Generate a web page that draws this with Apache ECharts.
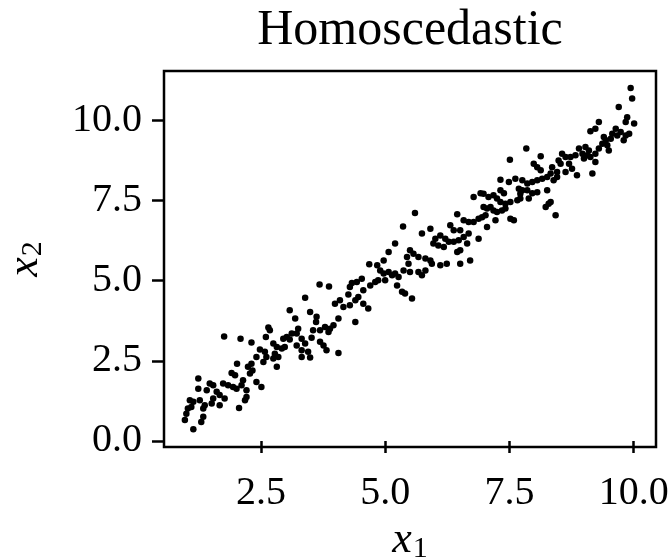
<!DOCTYPE html>
<html>
<head>
<meta charset="utf-8">
<script src="https://cdn.jsdelivr.net/npm/echarts@6/dist/echarts.min.js"></script>
<style>html,body{margin:0;padding:0;background:#fff}#c{width:670px;height:558px}</style>
</head>
<body>
<div id="c"></div>
<script>
const titleText = 'Homoscedastic';
const xTicks = [2.5, 5.0, 7.5, 10.0];
const yTicks = [0.0, 2.5, 5.0, 7.5, 10.0];

const pointsLow = [
[2.65,3.54],[2.60,3.24],[1.76,3.26],[2.09,3.19],[2.31,3.07],[2.48,2.85],[2.58,2.78],[2.61,2.62],[2.41,2.62],[2.31,2.41],
[2.24,2.31],[2.33,2.20],[2.55,2.46],[2.02,2.41],[1.91,2.12],[1.98,2.05],[2.28,2.10],[2.14,1.89],[2.41,1.84],[2.51,1.68],
[1.24,1.95],[1.47,1.79],[1.54,1.74],[1.74,1.79],[1.84,1.74],[1.94,1.68],[2.01,1.63],[2.11,1.74],[2.21,1.58],[1.24,1.63],
[1.41,1.58],[1.61,1.53],[1.67,1.43],[1.54,1.32],[1.77,1.32],[2.21,1.37],[2.18,1.27],[1.07,1.27],[1.14,1.22],[1.27,1.27],
[1.37,1.11],[1.51,1.17],[1.67,1.11],[1.34,1.01],[1.03,1.01],[1.10,1.06],[1.00,0.85],[1.34,0.75],[1.30,0.59],[0.97,0.65],
[1.14,0.36],[2.06,1.03]
];
const pointsMidLow = [
[4.68,5.51],[4.84,5.48],[3.68,4.88],[3.87,4.82],[4.33,4.93],[4.43,4.96],[4.53,5.06],[4.29,4.80],[4.70,4.85],[4.80,4.96],
[4.86,5.01],[3.39,4.47],[4.26,4.57],[4.46,4.49],[4.40,4.39],[4.56,4.28],[4.66,4.13],[4.09,4.39],[3.99,4.28],[4.16,4.18],
[4.29,4.23],[3.08,4.08],[3.49,4.02],[3.19,3.82],[3.62,3.87],[3.61,3.71],[4.40,3.71],[4.06,3.82],[3.96,3.61],[3.89,3.50],
[3.79,3.55],[3.69,3.45],[3.55,3.45],[3.86,3.40],[3.25,3.50],[3.22,3.35],[3.12,3.35],[3.02,3.24],[2.95,3.19],[3.08,3.16],
[3.32,3.19],[3.52,3.22],[3.69,3.09],[3.76,2.98],[3.39,3.04],[3.22,2.98],[3.32,2.83],[3.45,2.78],[2.68,3.45],[2.75,3.04],
[2.82,2.93],[2.92,2.88],[2.98,2.93],[2.78,2.72],[2.75,2.57],[2.85,2.62],[2.82,2.31],[3.82,2.83],[4.06,2.74],[3.32,2.62],
[3.49,2.60]
];
const pointsMid = [
[5.60,7.11],[6.45,7.07],[6.58,6.88],[6.68,6.83],[5.36,6.69],[5.91,6.62],[5.74,6.47],[6.31,6.73],[6.38,6.57],[6.51,6.57],
[6.11,6.41],[6.01,6.31],[6.21,6.31],[6.28,6.21],[5.97,6.16],[6.07,6.10],[6.18,6.05],[6.38,6.21],[6.48,6.26],[6.58,6.36],
[6.68,6.47],[6.65,6.16],[6.51,5.95],[6.45,5.89],[5.20,6.16],[5.07,5.89],[4.97,5.63],[5.50,5.95],[5.57,5.84],[5.67,5.74],
[5.81,5.69],[5.91,5.63],[5.94,5.53],[6.11,5.48],[6.24,5.53],[6.51,5.53],[6.71,5.63],[5.44,5.74],[5.47,5.53],[5.37,5.32],
[5.50,5.27],[5.67,5.27],[5.74,5.17],[5.81,5.32],[4.90,5.32],[4.97,5.22],[5.07,5.27],[5.14,5.17],[5.20,5.22],[5.27,5.11],
[5.00,5.01],[4.56,4.70],[5.24,4.85],[5.34,4.65],[5.40,4.60],[5.54,4.44]
];
const pointsMidHigh = [
[7.84,9.12],[7.51,8.77],[8.13,8.88],[7.99,8.65],[8.06,8.54],[8.13,8.44],[8.36,8.54],[8.46,8.39],[8.49,8.75],[7.32,8.15],
[7.49,8.08],[7.62,8.18],[7.76,8.13],[7.86,8.03],[7.96,8.08],[8.06,8.13],[8.16,8.18],[8.26,8.23],[8.33,8.34],[8.39,8.13],
[8.46,8.23],[7.32,7.82],[7.39,7.73],[7.69,7.87],[7.76,7.82],[7.86,7.82],[7.96,7.73],[8.06,7.76],[7.72,7.71],[6.78,7.61],
[6.92,7.73],[6.98,7.71],[7.08,7.61],[7.18,7.66],[7.25,7.56],[7.32,7.45],[7.42,7.40],[7.52,7.45],[7.66,7.51],[7.72,7.56],
[7.89,7.56],[8.26,7.82],[8.33,7.45],[8.23,7.30],[8.29,7.40],[6.98,7.30],[7.05,7.25],[7.12,7.30],[7.18,7.19],[7.25,7.14],
[7.35,7.19],[7.42,7.25],[7.52,6.93],[7.59,6.88],[7.22,6.88],[6.78,6.83],[6.88,6.93],[6.95,6.98],[7.02,7.04],[7.05,6.67],
[6.88,6.31],[8.43,7.04]
];
const pointsHigh = [
[9.94,11.01],[9.97,10.68],[9.70,10.42],[9.87,10.10],[9.84,9.95],[10.01,9.90],[9.30,9.95],[9.13,9.66],[9.23,9.74],[9.64,9.74],
[9.74,9.64],[9.84,9.53],[9.91,9.58],[9.80,9.38],[9.67,9.53],[9.57,9.58],[9.54,9.43],[9.40,9.48],[9.44,9.38],[9.37,9.27],
[9.47,9.22],[9.30,9.12],[9.23,8.96],[9.50,9.06],[8.90,9.12],[9.03,9.17],[9.10,9.06],[8.97,8.96],[9.07,8.91],[9.13,8.86],
[8.83,8.91],[9.00,8.81],[9.23,8.70],[9.17,8.34],[8.56,8.96],[8.63,8.86],[8.73,8.86],[8.53,8.65],[8.70,8.65],[8.76,8.49],
[8.86,8.29],[8.63,8.39]
];

const allPoints = [].concat(pointsLow, pointsMidLow, pointsMid, pointsMidHigh, pointsHigh);

const serif = 'Liberation Serif';
const chart = echarts.init(document.getElementById('c'), null, {renderer: 'canvas'});
const nameRich = {
  i: {fontFamily: serif, fontStyle: 'italic', fontSize: 44, color: '#000', lineHeight: 44},
  s: {fontFamily: serif, fontSize: 30, color: '#000', lineHeight: 30, padding: [16, 0, 0, 1]}
};
chart.setOption({
  animation: false,
  backgroundColor: '#fff',
  graphic: [{
    type: 'text', x: 410, y: 31,
    style: {text: titleText, fontFamily: serif, fontSize: 50, fill: '#000', textAlign: 'center', textVerticalAlign: 'middle'}
  }],
  grid: {left: 164, top: 71, right: 14, bottom: 111, show: true, borderColor: '#000', borderWidth: 2.5,
         backgroundColor: 'transparent', outerBoundsMode: 'none', containLabel: false},
  xAxis: {
    type: 'value', min: 0.55, max: 10.45,
    axisLine: {show: false},
    splitLine: {show: false},
    axisTick: {show: true, customValues: xTicks, length: 12, lineStyle: {color: '#000', width: 2.5}},
    axisLabel: {customValues: xTicks, formatter: v => v.toFixed(1), fontFamily: serif, fontSize: 40, color: '#000', margin: 26},
    name: '{i|x}{s|1}', nameLocation: 'middle', nameGap: 56,
    nameTextStyle: {rich: nameRich}
  },
  yAxis: {
    type: 'value', min: -0.19, max: 11.54,
    axisLine: {show: false},
    splitLine: {show: false},
    axisTick: {show: true, customValues: yTicks, length: 12, lineStyle: {color: '#000', width: 2.5}},
    axisLabel: {customValues: yTicks, formatter: v => v.toFixed(1), fontFamily: serif, fontSize: 40, color: '#000', margin: 22},
    name: '{i|x}{s|2}', nameLocation: 'middle', nameGap: 117,
    nameTextStyle: {rich: nameRich}
  },
  series: [{
    type: 'scatter',
    data: allPoints,
    symbolSize: 6.5,
    itemStyle: {color: '#000', opacity: 1},
    silent: true
  }]
});
</script>
</body>
</html>
